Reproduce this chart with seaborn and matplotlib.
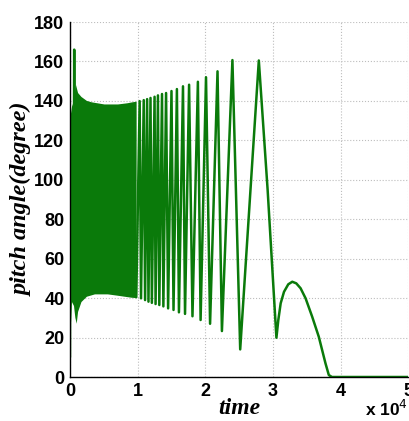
import matplotlib
matplotlib.use("Agg")
from matplotlib import pyplot as plt
import numpy as np
import pandas as pd
import seaborn as sns

# time in units of 1e4, angle in degrees
# turning points of the resolved oscillation
turn_t = [0.0, 0.006, 0.058, 0.063, 0.068, 0.98,
          1.03, 1.05, 1.09, 1.11, 1.14, 1.16, 1.19, 1.21, 1.25, 1.265,
          1.30, 1.32, 1.36, 1.38, 1.42, 1.45, 1.50, 1.53, 1.58, 1.61,
          1.67, 1.70, 1.76, 1.81, 1.89, 1.93, 2.01, 2.07, 2.18, 2.245,
          2.40, 2.515, 2.79, 2.92, 3.05,
          3.078, 3.113, 3.162, 3.225, 3.284, 3.343, 3.407, 3.481, 3.578,
          3.676, 3.775, 3.824, 3.87, 5.0]
turn_deg = [10, 130, 100, 166, 100, 40.5,
            139.9, 39.9, 140.4, 39.0, 140.9, 38.2, 141.5, 37.6, 142.1, 37.0,
            142.8, 36.5, 143.5, 35.8, 144.0, 34.8, 145.0, 34.0, 146.0, 32.8,
            147.4, 32.0, 148.2, 30.8, 149.7, 28.9, 152.0, 27.0, 155.0, 23.3,
            160.7, 14.0, 160.5, 95, 19.9,
            28.9, 37.4, 43.2, 47.0, 48.3, 47.5, 45.0, 39.9, 30.6,
            20.4, 6.9, 1.0, 0, 0]

# envelope of the dense (unresolved) oscillation at the start
top_t = [0.005, 0.03, 0.06, 0.09, 0.12, 0.17, 0.25, 0.32, 0.37, 0.51, 0.71, 0.85, 0.91, 0.985]
top_deg = [131, 137, 140, 148, 144, 142, 140, 139.3, 139, 138.2, 138.2, 138.8, 139.2, 139.6]
low_t = [0.005, 0.03, 0.06, 0.08, 0.10, 0.12, 0.17, 0.25, 0.37, 0.56, 0.71, 0.91, 0.985]
low_deg = [20, 38, 36, 30, 27, 33, 38, 40.7, 41.9, 41.9, 41.2, 40.2, 40]

green = "#0a7a0a"

sns.set_style("white")
plt.rcParams.update({"text.color": "black", "axes.labelcolor": "black",
                     "xtick.color": "black", "ytick.color": "black"})
fig = plt.figure(figsize=(4.09, 4.21), dpi=100)
ax = fig.add_axes([0.171, 0.1045, 0.8276, 0.8432])

df = pd.DataFrame({"time": turn_t, "angle": turn_deg})
sns.lineplot(data=df, x="time", y="angle", sort=False, estimator=None,
             color=green, linewidth=1.8, ax=ax)
ax.fill(np.r_[top_t, low_t[::-1]], np.r_[top_deg, low_deg[::-1]],
        color=green, linewidth=0)

ax.set_xlim(0, 5)
ax.set_ylim(0, 180)
ax.set_xticks(range(0, 6))
ax.set_yticks(range(0, 181, 20))
ax.grid(True, color="#bdbdbd", linestyle=":", linewidth=0.8)
for s in ["top", "right"]:
    ax.spines[s].set_visible(False)
for s in ["left", "bottom"]:
    ax.spines[s].set_color("black")
    ax.spines[s].set_linewidth(1.0)
ax.tick_params(length=0, pad=4, colors="black")
for lab in ax.get_xticklabels() + ax.get_yticklabels():
    lab.set_fontfamily("Liberation Sans")
    lab.set_fontweight("bold")
    lab.set_fontsize(13)

ax.set_xlabel("time", family="Liberation Serif", weight="bold", style="italic",
              fontsize=17, labelpad=-1)
ax.set_ylabel("pitch angle(degree)", family="Liberation Serif", weight="bold",
              style="italic", fontsize=17.5, labelpad=1)
fig.text(0.893, 0.012, r"x 10$^{4}$", family="Liberation Sans", weight="bold",
         fontsize=12.5)

fig.savefig("out.png", dpi=100)
